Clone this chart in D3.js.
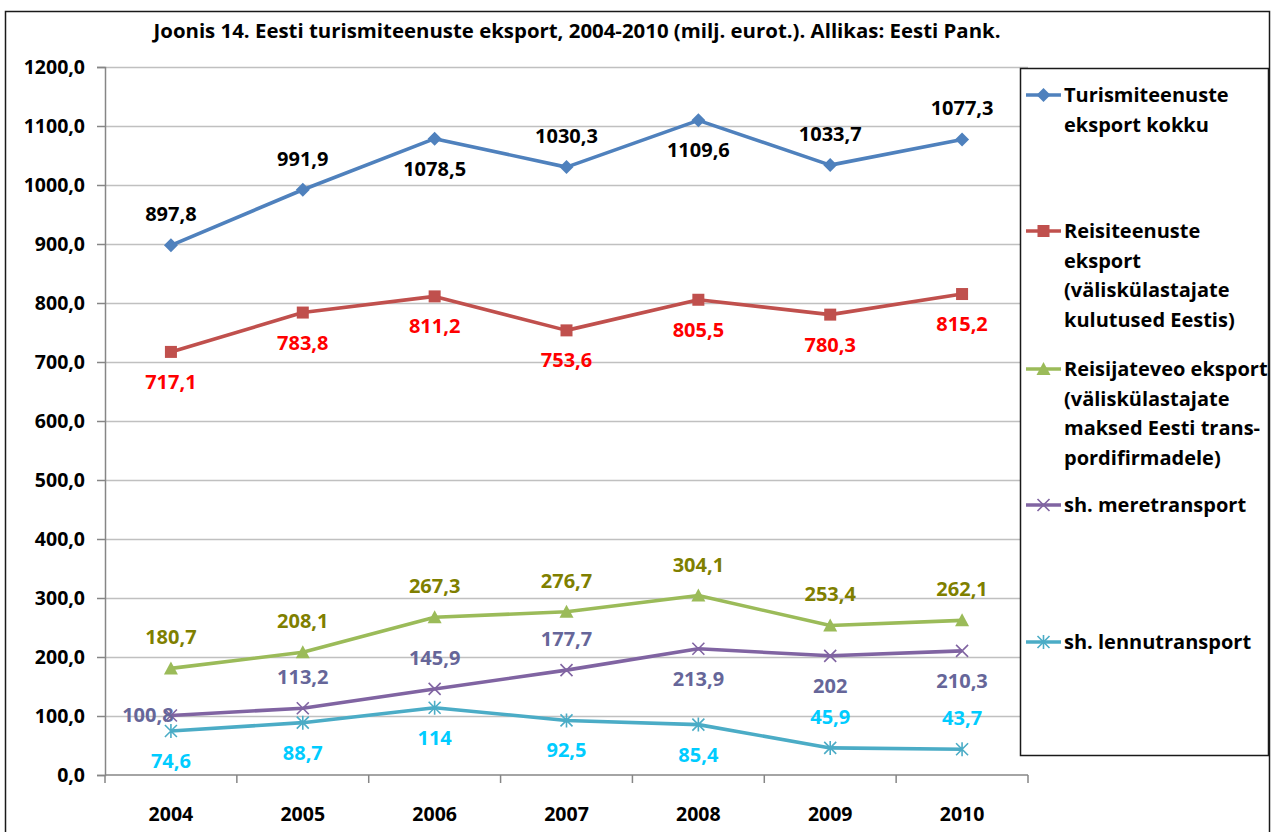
<!DOCTYPE html>
<html><head><meta charset="utf-8">
<script src="https://cdn.jsdelivr.net/npm/d3@7"></script>
<style>
html,body{margin:0;padding:0;background:#fff;}
svg text{font-family:"Open Sans",sans-serif;font-weight:bold;}
</style></head>
<body>
<svg id="c" width="1279" height="832"></svg>
<script>
const years = ["2004","2005","2006","2007","2008","2009","2010"];
const totalExport = [897.8, 991.9, 1078.5, 1030.3, 1109.6, 1033.7, 1077.3];
const travelExport = [717.1, 783.8, 811.2, 753.6, 805.5, 780.3, 815.2];
const passengerExport = [180.7, 208.1, 267.3, 276.7, 304.1, 253.4, 262.1];
const seaTransport = [100.8, 113.2, 145.9, 177.7, 213.9, 202, 210.3];
const airTransport = [74.6, 88.7, 114, 92.5, 85.4, 45.9, 43.7];
const yTicks = [0,100,200,300,400,500,600,700,800,900,1000,1100,1200];
const titleText = "Joonis 14. Eesti turismiteenuste eksport, 2004-2010 (milj. eurot.). Allikas: Eesti Pank.";
const seriesNames = [
  ["Turismiteenuste","eksport kokku"],
  ["Reisiteenuste","eksport","(väliskülastajate","kulutused Eestis)"],
  ["Reisijateveo eksport","(väliskülastajate","maksed Eesti trans-","pordifirmadele)"],
  ["sh. meretransport"],
  ["sh. lennutransport"]
];
// label placement per point: a = above, b = below, l = left
const totalPos = ["a","a","b","a","b","a","a"];
const travelPos = ["b","b","b","b","b","b","b"];
const passengerPos = ["a","a","a","a","a","a","a"];
const seaPos = ["l","a","a","a","b","b","b"];
const airPos = ["b","b","b","b","b","a","a"];

const series = [
  {vals: totalExport, pos: totalPos, color:"#4F81BD", lab:"#000000", sym:"diamond"},
  {vals: travelExport, pos: travelPos, color:"#C0504D", lab:"#FF0000", sym:"square"},
  {vals: passengerExport, pos: passengerPos, color:"#9BBB59", lab:"#7F7F00", sym:"triangle"},
  {vals: seaTransport, pos: seaPos, color:"#8064A2", lab:"#666699", sym:"x"},
  {vals: airTransport, pos: airPos, color:"#4BACC6", lab:"#00CCFF", sym:"star"}
];

const svg = d3.select("#c");
// outer frame
svg.append("rect").attr("x",5.5).attr("y",11.5).attr("width",1264).attr("height",840)
  .attr("fill","#fff").attr("stroke","#1a1a1a").attr("stroke-width",1.5);

svg.append("text").attr("x",577).attr("y",38).attr("text-anchor","middle")
  .attr("font-size",20.4).attr("fill","#000").text(titleText);

const L=105, R=1028, T=67, B=775;
const x = d3.scaleBand().domain(years).range([L,R]);
const y = d3.scaleLinear().domain([0,1200]).range([B,T]);
const cx = d => x(d) + x.bandwidth()/2;

// gridlines
svg.append("g").attr("transform",`translate(${L},0)`)
  .call(d3.axisLeft(y).tickValues(yTicks.slice(1)).tickSize(-(R-L)).tickFormat(""))
  .call(g=>g.select(".domain").remove())
  .call(g=>g.selectAll("line").attr("stroke","#C0C0C0").attr("stroke-width",1.3));

// y axis
const fmt = v => v.toFixed(1).replace(".",",");
svg.append("g").attr("transform",`translate(${L},0)`)
  .call(d3.axisLeft(y).tickValues(yTicks).tickSize(8).tickPadding(12).tickFormat(fmt))
  .call(g=>g.select(".domain").attr("stroke","#868686").attr("stroke-width",1.5))
  .call(g=>g.selectAll("line").attr("stroke","#868686").attr("stroke-width",1.5))
  .call(g=>g.selectAll("text").attr("font-size",19.5).attr("fill","#000")
     .style("font-family",'"Open Sans",sans-serif').style("font-weight","bold"));

// x axis
const xa = svg.append("g").attr("transform",`translate(0,${B})`);
xa.append("line").attr("x1",L).attr("x2",R).attr("stroke","#868686").attr("stroke-width",1.5);
const edges = years.map(yr=>x(yr)).concat([R]);
xa.selectAll("line.tk").data(edges).join("line").attr("class","tk")
  .attr("x1",d=>d).attr("x2",d=>d).attr("y1",0).attr("y2",8).attr("stroke","#868686").attr("stroke-width",1.5);
xa.selectAll("text").data(years).join("text")
  .attr("x",d=>cx(d)).attr("y",46).attr("text-anchor","middle").attr("font-size",19.5).attr("fill","#000").text(d=>d);

function drawSym(g, sym, color, px, py){
  if(sym==="diamond"){
    g.append("path").attr("d",`M${px},${py-7}L${px+7},${py}L${px},${py+7}L${px-7},${py}Z`).attr("fill",color);
  } else if(sym==="square"){
    g.append("rect").attr("x",px-6).attr("y",py-6).attr("width",12).attr("height",12).attr("fill",color);
  } else if(sym==="triangle"){
    g.append("path").attr("d",`M${px},${py-7}L${px+7},${py+6}L${px-7},${py+6}Z`).attr("fill",color);
  } else if(sym==="x"){
    g.append("path").attr("d",`M${px-6},${py-6}L${px+6},${py+6}M${px-6},${py+6}L${px+6},${py-6}`).attr("stroke",color).attr("stroke-width",1.6);
  } else if(sym==="star"){
    g.append("path").attr("d",`M${px-6},${py-6}L${px+6},${py+6}M${px-6},${py+6}L${px+6},${py-6}M${px},${py-7}L${px},${py+7}`).attr("stroke",color).attr("stroke-width",1.6);
  }
}

const line = d3.line().x((d,i)=>cx(years[i])).y(d=>y(d));
const lblFmt = v => String(v).replace(".",",");
series.forEach(s=>{
  const g = svg.append("g");
  g.append("path").datum(s.vals).attr("d",line).attr("fill","none")
    .attr("stroke",s.color).attr("stroke-width",3.6).attr("stroke-linejoin","round");
  s.vals.forEach((v,i)=>drawSym(g, s.sym, s.color, cx(years[i]), y(v)));
  s.vals.forEach((v,i)=>{
    const p = s.pos[i];
    let tx = cx(years[i]), ty = y(v);
    if(p==="a") ty -= 24;
    else if(p==="b") ty += 37;
    else { tx -= 23; ty += 6; }
    g.append("text").attr("x",tx).attr("y",ty).attr("text-anchor","middle")
      .attr("font-size",20).attr("fill",s.lab).text(lblFmt(v));
  });
});

// legend
svg.append("rect").attr("x",1020.5).attr("y",68.5).attr("width",248).attr("height",687)
  .attr("fill","#fff").attr("stroke","#1a1a1a").attr("stroke-width",1.5);
const legY = [95, 231, 369, 505, 642];
series.forEach((s,k)=>{
  const g = svg.append("g");
  const ly = legY[k];
  g.append("line").attr("x1",1026).attr("x2",1061).attr("y1",ly).attr("y2",ly)
    .attr("stroke",s.color).attr("stroke-width",3.5);
  drawSym(g, s.sym, s.color, 1043.5, ly);
  seriesNames[k].forEach((t,j)=>{
    g.append("text").attr("x",1064).attr("y",ly+7+j*29.7).attr("font-size",20).attr("fill","#000").text(t);
  });
});
</script>
</body></html>
